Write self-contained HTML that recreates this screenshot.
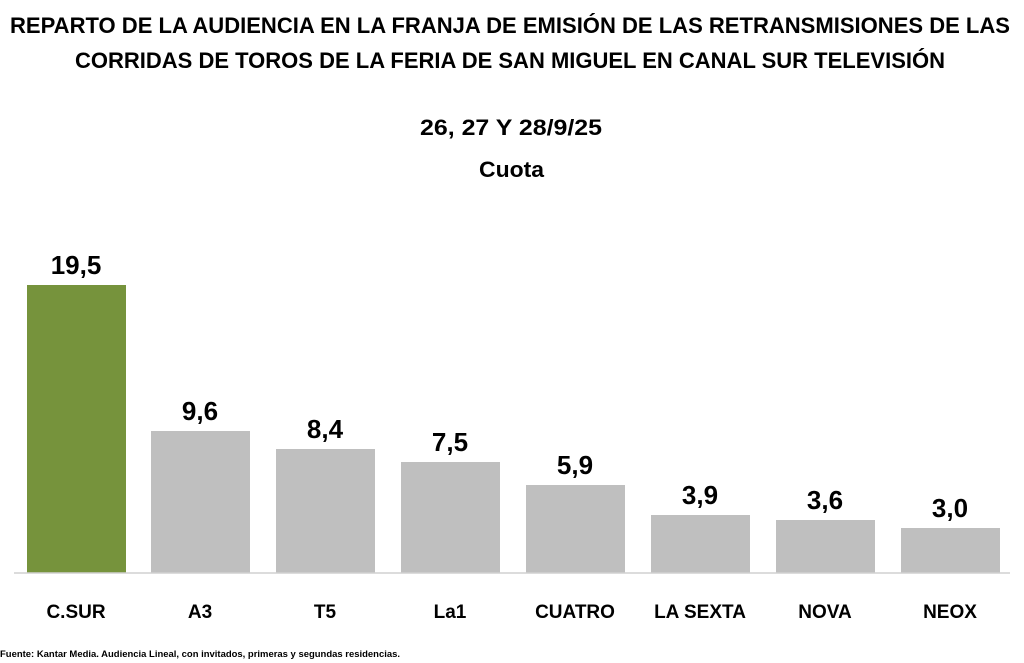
<!DOCTYPE html>
<html><head><meta charset="utf-8"><style>
html,body{margin:0;padding:0;background:#fff}
svg{display:block}
text{font-family:"Liberation Sans",sans-serif;font-weight:bold;fill:#000}
</style></head><body>
<svg width="1024" height="663" viewBox="0 0 1024 663" xmlns="http://www.w3.org/2000/svg">
<text x="10" y="33" font-size="22" textLength="1000" lengthAdjust="spacingAndGlyphs">REPARTO DE LA AUDIENCIA EN LA FRANJA DE EMISIÓN DE LAS RETRANSMISIONES DE LAS</text>
<text x="75" y="68" font-size="22" textLength="870" lengthAdjust="spacingAndGlyphs">CORRIDAS DE TOROS DE LA FERIA DE SAN MIGUEL EN CANAL SUR TELEVISIÓN</text>
<text x="420" y="135" font-size="22" textLength="182" lengthAdjust="spacingAndGlyphs">26, 27 Y 28/9/25</text>
<text x="479" y="177" font-size="22" textLength="65" lengthAdjust="spacingAndGlyphs">Cuota</text>
<g>
<rect x="27" y="285" width="99" height="288" fill="#76933C"/>
<rect x="151" y="431" width="99" height="142" fill="#BFBFBF"/>
<rect x="276" y="449" width="99" height="124" fill="#BFBFBF"/>
<rect x="401" y="462" width="99" height="111" fill="#BFBFBF"/>
<rect x="526" y="485" width="99" height="88" fill="#BFBFBF"/>
<rect x="651" y="515" width="99" height="58" fill="#BFBFBF"/>
<rect x="776" y="520" width="99" height="53" fill="#BFBFBF"/>
<rect x="901" y="528" width="99" height="45" fill="#BFBFBF"/>
</g>
<line x1="14" y1="573" x2="1010" y2="573" stroke="#D0D0D0" stroke-width="1.5"/>
<g font-size="26" text-anchor="middle">
<text x="76" y="274">19,5</text>
<text x="200" y="420">9,6</text>
<text x="325" y="438">8,4</text>
<text x="450" y="451">7,5</text>
<text x="575" y="474">5,9</text>
<text x="700" y="504">3,9</text>
<text x="825" y="509">3,6</text>
<text x="950" y="517">3,0</text>
</g>
<g font-size="19" text-anchor="middle">
<text x="76" y="618">C.SUR</text>
<text x="200" y="618">A3</text>
<text x="325" y="618">T5</text>
<text x="450" y="618">La1</text>
<text x="575" y="618">CUATRO</text>
<text x="700" y="618">LA SEXTA</text>
<text x="825" y="618">NOVA</text>
<text x="950" y="618">NEOX</text>
</g>
<text x="0" y="657" font-size="9.5" textLength="400" lengthAdjust="spacingAndGlyphs">Fuente: Kantar Media. Audiencia Lineal, con invitados, primeras y segundas residencias.</text>
</svg>
</body></html>
